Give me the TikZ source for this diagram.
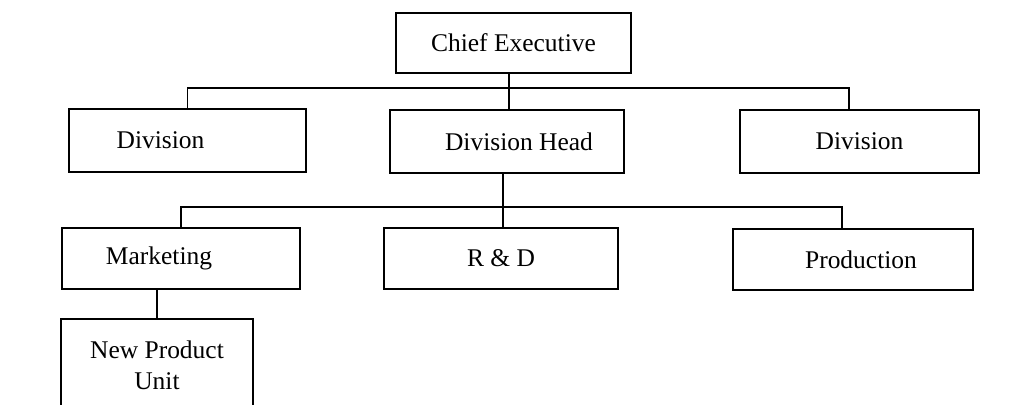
\documentclass[tikz,border=0pt]{standalone}
\usepackage{fontspec}
\setmainfont{Liberation Serif}
\usepackage{tikz}
\usetikzlibrary{calc,positioning}

\tikzset{
    unit/.style={draw, line width=1.1pt, inner sep=0pt, font=\fontsize{14.5}{17.5}\selectfont, align=center},
    link/.style={line width=1pt}
}

\begin{document}
\begin{tikzpicture}[x=0.02cm, y=-0.02cm]
    \useasboundingbox (0,0) rectangle (1021,405);

    % TOP: Chief Executive
    \node[unit, minimum width=235*0.02cm, minimum height=60*0.02cm] (ce) at (513.5,43) {Chief Executive};

    % SECOND ROW: Divisions
    \node[unit, minimum width=237*0.02cm, minimum height=63*0.02cm,
          label={[xshift=-27*0.02cm, font=\fontsize{14.5}{17.5}\selectfont]center:Division}] (divl) at (187.5,140.5) {};
    \node[unit, minimum width=234*0.02cm, minimum height=63*0.02cm] (dh) at (507,141.5) {\hspace*{0.48cm}Division Head};
    \node[unit, minimum width=239*0.02cm, minimum height=63*0.02cm] (divr) at (859.5,141.5) {Division};

    % THIRD ROW: Functions
    \node[unit, minimum width=238*0.02cm, minimum height=61*0.02cm,
          label={[xshift=-22*0.02cm, font=\fontsize{14.5}{17.5}\selectfont]center:Marketing}] (mkt) at (181,258.5) {};
    \node[unit, minimum width=234*0.02cm, minimum height=61*0.02cm] (rd) at (501,258.5) {R \& D};
    \node[unit, minimum width=240*0.02cm, minimum height=61*0.02cm] (prod) at (853,259.5) {\hspace*{0.32cm}Production};

    % BOTTOM: New Product Unit (cut off by the page edge)
    \node[unit, minimum width=192*0.02cm, minimum height=93*0.02cm] (npu) at (157,365.5) {New Product\\Unit};

    % Connectors
    \coordinate (bus1) at (509,88);
    \coordinate (drop1) at (849,110);
    \coordinate (bus2) at (503,207);
    \coordinate (drop2) at (842,229);
    \draw[link] (ce.south -| bus1) -- (dh.north -| bus1);
    \draw[link] (divl.north) |- (bus1) -| (drop1);
    \draw[link] (dh.south -| bus2) -- (rd.north -| bus2);
    \draw[link] (mkt.north) |- (bus2) -| (drop2);
    \draw[link] (npu.north |- mkt.south) -- (npu.north);
\end{tikzpicture}
\end{document}
